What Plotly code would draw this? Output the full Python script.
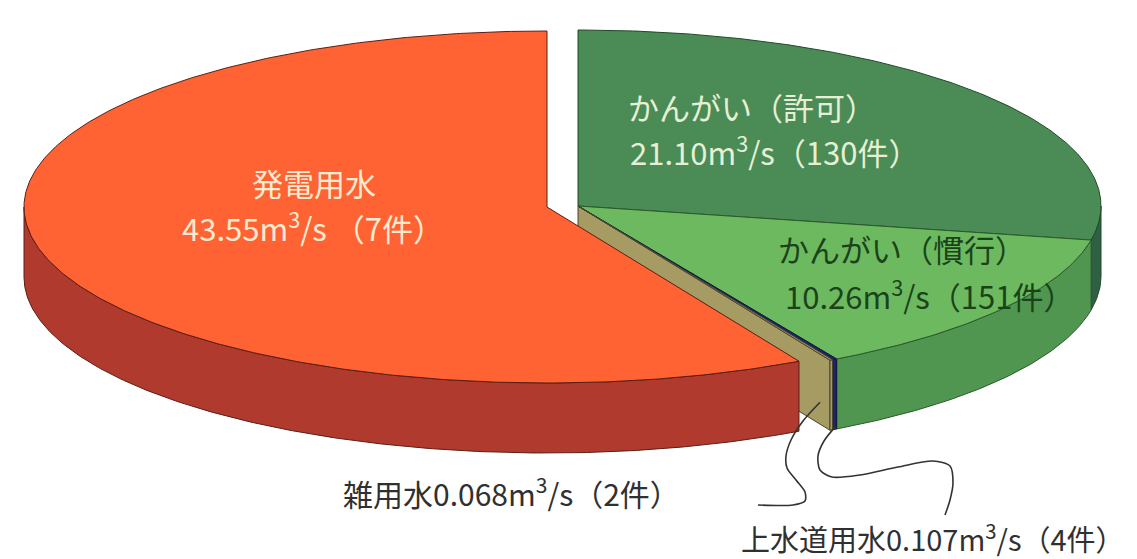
import numpy as np
import plotly.graph_objects as go

# ---------------- data ----------------
categories = ["かんがい（許可）", "かんがい（慣行）", "上水道用水", "雑用水", "発電用水"]
flows = [21.10, 10.26, 0.107, 0.068, 43.55]      # m3/s
counts = [130, 151, 4, 2, 7]                      # 件

# ---------------- style ----------------
top_colors = ["#4B8B55", "#6DB95F", "#1C2466", "#A69B62", "#FF6333"]
side_colors = ["#2F5F45", "#519650", "#1C2466", "#A69B62", "#B03A2E"]
edge_colors = ["#1F4A2A", "#2A5A2A", "#101840", "#4A4430", "#5A1E14"]
offsets = [(0, 0), (0, 0), (0, 0), (0, 0), (-31, 1)]   # exploded slice

W, H = 1137, 559
CX, CY = 570, 198
RX, RY = 523, 176
DEPTH = 70
START = 90.0   # degrees, slices run clockwise

total = sum(flows)
angles = []
a = START
for v in flows:
    span = 360.0 * v / total
    angles.append((a - span, a))   # (lo, hi)
    a -= span


def pt(theta, off, dz=0.0):
    t = np.radians(theta)
    return (CX + off[0] + RX * np.cos(t), CY + off[1] - RY * np.sin(t) + dz)


def arc(lo, hi, off, dz=0.0, n=None):
    if n is None:
        n = max(3, int(abs(hi - lo) * 2) + 2)
    th = np.linspace(hi, lo, n)
    xs, ys = zip(*[pt(t, off, dz) for t in th])
    return list(xs), list(ys)


fig = go.Figure()


def poly(xs, ys, fill, edge, width=1.0):
    fig.add_trace(go.Scatter(
        x=list(xs) + [xs[0]], y=list(ys) + [ys[0]], mode="lines",
        fill="toself", fillcolor=fill, line=dict(color=edge, width=width),
        hoverinfo="skip", showlegend=False))


def front_parts(lo, hi):
    parts = []
    for k in (-1, 0, 1):
        flo, fhi = -180 + 360 * k, 0 + 360 * k
        l, h = max(lo, flo), min(hi, fhi)
        if h > l:
            parts.append((l, h))
    return parts


def draw_group(idx):
    n = len(flows)
    # cut faces facing the viewer
    for i in idx:
        lo, hi = angles[i]
        off = offsets[i]
        nb = (i + 1) % n
        if offsets[nb] != off and np.cos(np.radians(lo)) > 1e-6:
            c = (CX + off[0], CY + off[1])
            r = pt(lo, off)
            poly([c[0], r[0], r[0], c[0]], [c[1], r[1], r[1] + DEPTH, c[1] + DEPTH],
                 side_colors[i], edge_colors[i])
        pb = (i - 1) % n
        if offsets[pb] != off and np.cos(np.radians(hi)) < -1e-6:
            c = (CX + off[0], CY + off[1])
            r = pt(hi, off)
            poly([c[0], r[0], r[0], c[0]], [c[1], r[1], r[1] + DEPTH, c[1] + DEPTH],
                 side_colors[i], edge_colors[i])
    # outer walls
    for i in idx:
        lo, hi = angles[i]
        for l, h in front_parts(lo, hi):
            tx, ty = arc(l, h, offsets[i])
            bx, by = arc(l, h, offsets[i], DEPTH)
            poly(tx + bx[::-1], ty + by[::-1], side_colors[i], edge_colors[i])
    # tops
    for i in idx:
        lo, hi = angles[i]
        off = offsets[i]
        ax, ay = arc(lo, hi, off)
        poly([CX + off[0]] + ax, [CY + off[1]] + ay, top_colors[i], edge_colors[i])


still = [i for i in range(len(flows)) if offsets[i] == (0, 0)]
moved = [i for i in range(len(flows)) if offsets[i] != (0, 0)]
draw_group(still)
draw_group(moved)


# ---------------- labels ----------------
def fmt(v):
    return f"{v:.2f}" if v >= 1 else f"{v:.3f}"


FONT = "Noto Sans CJK JP"
FS = 31
ann = []


def add_text(txt, x, y, color, xanchor="left", size=FS):
    ann.append(dict(text=txt, x=x, y=y, xref="x", yref="y", showarrow=False,
                    xanchor=xanchor, yanchor="middle",
                    font=dict(family=FONT, size=size, color=color)))


# 発電用水
add_text(categories[4], 306, 174, "#FFEBD0", "center")
add_text(f"{fmt(flows[4])}m<sup>3</sup>/s （{counts[4]}件）", 305, 218, "#FFEBD0", "center")
# かんがい（許可）
add_text(categories[0], 618, 98, "#E6F0D6")
add_text(f"{fmt(flows[0])}m<sup>3</sup>/s（{counts[0]}件）", 620, 142, "#E6F0D6")
# かんがい（慣行）
add_text(categories[1], 768, 240, "#1B431B")
add_text(f"{fmt(flows[1])}m<sup>3</sup>/s（{counts[1]}件）", 775, 286, "#1B431B")
# small slices
add_text(f"{categories[3]}{fmt(flows[3])}m<sup>3</sup>/s（{counts[3]}件）", 333, 484, "#303030", size=30)
add_text(f"{categories[2]}{fmt(flows[2])}m<sup>3</sup>/s（{counts[2]}件）", 925, 529, "#303030", "center", size=29)

# leader lines (from slice geometry to the labels)
rz = pt(angles[3][0], offsets[3])
tip_z = (rz[0] - 10, rz[1] + 0.6 * DEPTH)
lead_z_x = [750, 785, 797, 797, 788, 779, 778, 783, 795, tip_z[0]]
lead_z_y = [497, 497, 493, 484, 472, 460, 448, 432, 413, tip_z[1]]
rj = pt(np.mean(angles[2]), offsets[2])
tip_j = (rj[0] + 1, rj[1] + DEPTH - 3)
lead_j_x = [tip_j[0], 816, 810, 812, 824, 852, 890, 925, 942, 945, 942, 937]
lead_j_y = [tip_j[1], 433, 448, 462, 469, 467, 459, 453, 458, 475, 492, 507]
for xs, ys in ((lead_z_x, lead_z_y), (lead_j_x, lead_j_y)):
    fig.add_trace(go.Scatter(x=xs, y=ys, mode="lines",
                             line=dict(color="#333333", width=1.6, shape="spline", smoothing=0.8),
                             hoverinfo="skip", showlegend=False))

fig.update_layout(
    width=W, height=H, margin=dict(l=0, r=0, t=0, b=0),
    paper_bgcolor="white", plot_bgcolor="white",
    xaxis=dict(range=[0, W], visible=False, fixedrange=True),
    yaxis=dict(range=[H, 0], visible=False, fixedrange=True),
    annotations=ann, showlegend=False,
)
fig.write_html("out.html")
